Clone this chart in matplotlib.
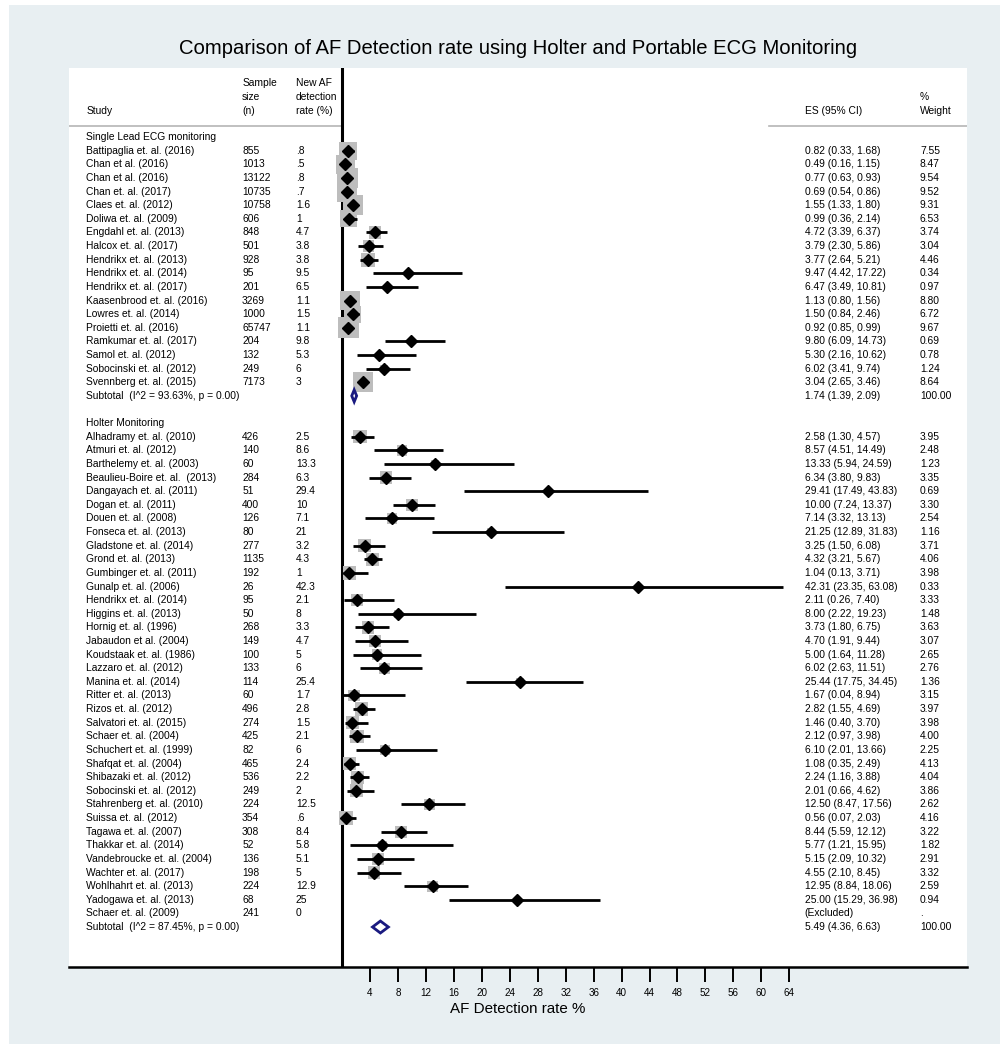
"""
Forest plot: AF detection rate, single lead ECG vs Holter monitoring
"""
import matplotlib.pyplot as plt
import numpy as np
from matplotlib.patches import Rectangle

plt.rcParams['font.family'] = ['Liberation Sans', 'DejaVu Sans']

# ---- data: single lead ECG monitoring ----
single_study = [
    'Battipaglia et. al. (2016)', 'Chan et al. (2016)', 'Chan et al. (2016)',
    'Chan et. al. (2017)', 'Claes et. al. (2012)', 'Doliwa et. al. (2009)',
    'Engdahl et. al. (2013)', 'Halcox et. al. (2017)', 'Hendrikx et. al. (2013)',
    'Hendrikx et. al. (2014)', 'Hendrikx et. al. (2017)', 'Kaasenbrood et. al. (2016)',
    'Lowres et. al. (2014)', 'Proietti et. al. (2016)', 'Ramkumar et. al. (2017)',
    'Samol et. al. (2012)', 'Sobocinski et. al. (2012)', 'Svennberg et. al. (2015)',
]
single_n = ['855', '1013', '13122', '10735', '10758', '606', '848', '501', '928',
            '95', '201', '3269', '1000', '65747', '204', '132', '249', '7173']
single_rate = ['.8', '.5', '.8', '.7', '1.6', '1', '4.7', '3.8', '3.8',
               '9.5', '6.5', '1.1', '1.5', '1.1', '9.8', '5.3', '6', '3']
single_es = [0.82, 0.49, 0.77, 0.69, 1.55, 0.99, 4.72, 3.79, 3.77,
             9.47, 6.47, 1.13, 1.50, 0.92, 9.80, 5.30, 6.02, 3.04]
single_lo = [0.33, 0.16, 0.63, 0.54, 1.33, 0.36, 3.39, 2.30, 2.64,
             4.42, 3.49, 0.80, 0.84, 0.85, 6.09, 2.16, 3.41, 2.65]
single_hi = [1.68, 1.15, 0.93, 0.86, 1.80, 2.14, 6.37, 5.86, 5.21,
             17.22, 10.81, 1.56, 2.46, 0.99, 14.73, 10.62, 9.74, 3.46]
single_wt = [7.55, 8.47, 9.54, 9.52, 9.31, 6.53, 3.74, 3.04, 4.46,
             0.34, 0.97, 8.80, 6.72, 9.67, 0.69, 0.78, 1.24, 8.64]
single_sub = (1.74, 1.39, 2.09)
single_sub_label = 'Subtotal  (I^2 = 93.63%, p = 0.00)'

# ---- data: Holter monitoring ----
holter_study = [
    'Alhadramy et. al. (2010)', 'Atmuri et. al. (2012)', 'Barthelemy et. al. (2003)',
    'Beaulieu-Boire et. al.  (2013)', 'Dangayach et. al. (2011)', 'Dogan et. al. (2011)',
    'Douen et. al. (2008)', 'Fonseca et. al. (2013)', 'Gladstone et. al. (2014)',
    'Grond et. al. (2013)', 'Gumbinger et. al. (2011)', 'Gunalp et. al. (2006)',
    'Hendrikx et. al. (2014)', 'Higgins et. al. (2013)', 'Hornig et. al. (1996)',
    'Jabaudon et al. (2004)', 'Koudstaak et. al. (1986)', 'Lazzaro et. al. (2012)',
    'Manina et. al. (2014)', 'Ritter et. al. (2013)', 'Rizos et. al. (2012)',
    'Salvatori et. al. (2015)', 'Schaer et. al. (2004)', 'Schuchert et. al. (1999)',
    'Shafqat et. al. (2004)', 'Shibazaki et. al. (2012)', 'Sobocinski et. al. (2012)',
    'Stahrenberg et. al. (2010)', 'Suissa et. al. (2012)', 'Tagawa et. al. (2007)',
    'Thakkar et. al. (2014)', 'Vandebroucke et. al. (2004)', 'Wachter et. al. (2017)',
    'Wohlhahrt et. al. (2013)', 'Yadogawa et. al. (2013)', 'Schaer et. al. (2009)',
]
holter_n = ['426', '140', '60', '284', '51', '400', '126', '80', '277', '1135',
            '192', '26', '95', '50', '268', '149', '100', '133', '114', '60',
            '496', '274', '425', '82', '465', '536', '249', '224', '354', '308',
            '52', '136', '198', '224', '68', '241']
holter_rate = ['2.5', '8.6', '13.3', '6.3', '29.4', '10', '7.1', '21', '3.2', '4.3',
               '1', '42.3', '2.1', '8', '3.3', '4.7', '5', '6', '25.4', '1.7',
               '2.8', '1.5', '2.1', '6', '2.4', '2.2', '2', '12.5', '.6', '8.4',
               '5.8', '5.1', '5', '12.9', '25', '0']
holter_es = [2.58, 8.57, 13.33, 6.34, 29.41, 10.00, 7.14, 21.25, 3.25, 4.32,
             1.04, 42.31, 2.11, 8.00, 3.73, 4.70, 5.00, 6.02, 25.44, 1.67,
             2.82, 1.46, 2.12, 6.10, 1.08, 2.24, 2.01, 12.50, 0.56, 8.44,
             5.77, 5.15, 4.55, 12.95, 25.00, np.nan]
holter_lo = [1.30, 4.51, 5.94, 3.80, 17.49, 7.24, 3.32, 12.89, 1.50, 3.21,
             0.13, 23.35, 0.26, 2.22, 1.80, 1.91, 1.64, 2.63, 17.75, 0.04,
             1.55, 0.40, 0.97, 2.01, 0.35, 1.16, 0.66, 8.47, 0.07, 5.59,
             1.21, 2.09, 2.10, 8.84, 15.29, np.nan]
holter_hi = [4.57, 14.49, 24.59, 9.83, 43.83, 13.37, 13.13, 31.83, 6.08, 5.67,
             3.71, 63.08, 7.40, 19.23, 6.75, 9.44, 11.28, 11.51, 34.45, 8.94,
             4.69, 3.70, 3.98, 13.66, 2.49, 3.88, 4.62, 17.56, 2.03, 12.12,
             15.95, 10.32, 8.45, 18.06, 36.98, np.nan]
holter_wt = [3.95, 2.48, 1.23, 3.35, 0.69, 3.30, 2.54, 1.16, 3.71, 4.06,
             3.98, 0.33, 3.33, 1.48, 3.63, 3.07, 2.65, 2.76, 1.36, 3.15,
             3.97, 3.98, 4.00, 2.25, 4.13, 4.04, 3.86, 2.62, 4.16, 3.22,
             1.82, 2.91, 3.32, 2.59, 0.94, np.nan]
holter_sub = (5.49, 4.36, 6.63)
holter_sub_label = 'Subtotal  (I^2 = 87.45%, p = 0.00)'

x_ticks = [4, 8, 12, 16, 20, 24, 28, 32, 36, 40, 44, 48, 52, 56, 60, 64]

# ---- build the row table ----
groups = [
    ('Single Lead ECG monitoring', single_study, single_n, single_rate,
     single_es, single_lo, single_hi, single_wt, single_sub, single_sub_label),
    ('Holter Monitoring', holter_study, holter_n, holter_rate,
     holter_es, holter_lo, holter_hi, holter_wt, holter_sub, holter_sub_label),
]

fig = plt.figure(figsize=(10, 10.5), dpi=100, facecolor='white')
# Stata style bluish graph region
fig.patches.append(Rectangle((0.009, 0.006), 0.991, 0.989, transform=fig.transFigure,
                             facecolor='#e8eff2', edgecolor='none', zorder=-10))

ax = fig.add_axes([0.069, 0.079, 0.898, 0.8562])
ax.set_facecolor('white')

fs = 7.4
col_study, col_n, col_rate, col_es, col_wt = -36.6, -14.3, -6.6, 66.2, 82.7

row = 0
for gi, (gname, st, nn, rate, es, lo, hi, wt, sub, sub_label) in enumerate(groups):
    if gi > 0:
        row += 1  # blank row between groups
    ax.text(col_study, row, gname, fontsize=fs, va='center')
    row += 1
    ys = np.arange(row, row + len(st))
    es = np.array(es)
    lo = np.array(lo)
    hi = np.array(hi)
    wt = np.array(wt)
    ok = ~np.isnan(es)

    # weight boxes, CI lines, point estimates
    ax.scatter(es[ok], ys[ok], s=23 * wt[ok], marker='s', color='#bdbdbd',
               linewidths=0, zorder=2)
    ax.hlines(ys[ok], lo[ok], hi[ok], color='black', lw=2, zorder=3)
    ax.plot(es[ok], ys[ok], 'D', color='black', ms=5.8, ls='none', zorder=4)

    for k in range(len(st)):
        y = ys[k]
        ax.text(col_study, y, st[k], fontsize=fs, va='center')
        ax.text(col_n, y, nn[k], fontsize=fs, va='center')
        ax.text(col_rate, y, rate[k], fontsize=fs, va='center')
        if ok[k]:
            ax.text(col_es, y, f'{es[k]:.2f} ({lo[k]:.2f}, {hi[k]:.2f})', fontsize=fs, va='center')
            ax.text(col_wt, y, f'{wt[k]:.2f}', fontsize=fs, va='center')
        else:
            ax.text(col_es, y, '(Excluded)', fontsize=fs, va='center')
            ax.text(col_wt, y, '.', fontsize=fs, va='center')
    row += len(st)

    # subtotal diamond
    s_es, s_lo, s_hi = sub
    h = 0.44
    ax.fill([s_lo, s_es, s_hi, s_es], [row, row - h, row, row + h],
            facecolor='white', edgecolor='#1a1a80', lw=2, zorder=4)
    ax.text(col_study, row, sub_label, fontsize=fs, va='center')
    ax.text(col_es, row, f'{s_es:.2f} ({s_lo:.2f}, {s_hi:.2f})', fontsize=fs, va='center')
    ax.text(col_wt, row, '100.00', fontsize=fs, va='center')
    row += 1

# header
hdr = dict(fontsize=fs, va='center')
ax.text(col_study, -1.91, 'Study', **hdr)
for txt, yy in zip(['Sample', 'size', '(n)'], [-3.96, -2.94, -1.91]):
    ax.text(col_n, yy, txt, **hdr)
for txt, yy in zip(['New AF', 'detection', 'rate (%)'], [-3.96, -2.94, -1.91]):
    ax.text(col_rate, yy, txt, **hdr)
ax.text(col_es, -1.91, 'ES (95% CI)', **hdr)
ax.text(col_wt, -2.94, '%', **hdr)
ax.text(col_wt, -1.91, 'Weight', **hdr)
# heading rule only under the text columns
ax.axhline(-0.81, xmin=0, xmax=0.304, color='#b5b5b5', lw=1.2, zorder=1)
ax.axhline(-0.81, xmin=0.78, xmax=1, color='#b5b5b5', lw=1.2, zorder=1)

# null line
ax.axvline(0, color='black', lw=2.2, zorder=1)

# axes
ax.set_xlim(-39.07, 89.43)
ax.set_ylim(60.94, -5.07)
for s in ['top', 'left', 'right']:
    ax.spines[s].set_visible(False)
ax.spines['bottom'].set_linewidth(1.8)
ax.set_yticks([])
ax.set_xticks(x_ticks)
ax.set_xticklabels([str(t) for t in x_ticks], fontsize=7.1)
ax.tick_params(axis='x', direction='out', length=10.8, width=1.4, pad=4)
ax.set_xlabel('AF Detection rate %', fontsize=10.9, labelpad=3.5)

fig.text(0.518, 1 - 48 / 1050, 'Comparison of AF Detection rate using Holter and Portable ECG Monitoring',
         fontsize=14.6, ha='center', va='center')

plt.savefig('out.png', dpi=100, facecolor=fig.get_facecolor())
plt.close()
